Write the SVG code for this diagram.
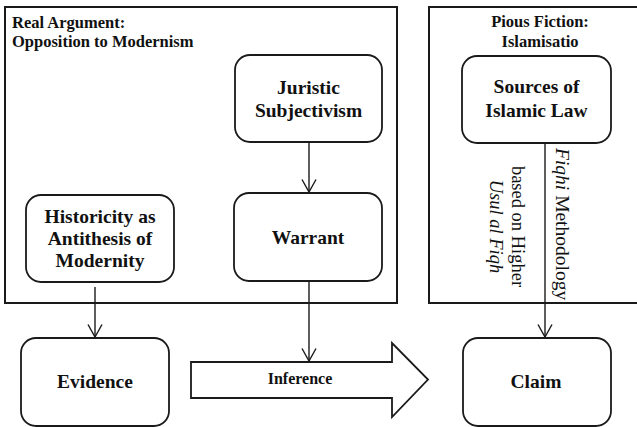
<svg xmlns="http://www.w3.org/2000/svg" width="637" height="427" viewBox="0 0 637 427" font-family="'Liberation Serif', 'Times New Roman', 'DejaVu Serif', serif">
  <style>
    .frame { fill: none; stroke: #1a1a1a; stroke-width: 2; }
    .box { fill: #fff; stroke: #1a1a1a; stroke-width: 1.8; }
    text { font-family: 'Liberation Serif', 'Times New Roman', 'DejaVu Serif', serif; fill: #111; }
    .title { font-weight: bold; font-size: 16.5px; }
    .label { font-weight: bold; font-size: 19.5px; text-anchor: middle; }
    .side { font-size: 18.5px; }
    .link { fill: none; stroke: #1a1a1a; stroke-width: 1.4; }
    .head { fill: none; stroke: #1a1a1a; stroke-width: 1.4; }
  </style>
  <defs>
    <!-- open V arrowhead -->
    <marker id="open" viewBox="0 0 14 16" refX="13" refY="8" markerWidth="14" markerHeight="16" markerUnits="userSpaceOnUse" orient="auto">
      <path class="head" d="M0.5,1 L13,8 L0.5,15"/>
    </marker>
  </defs>
  <rect width="637" height="427" fill="#fff"/>

  <!-- Real argument container -->
  <g id="real-argument">
    <rect class="frame" x="5" y="7" width="392" height="296"/>
    <text class="title" x="12" y="28">Real Argument:</text>
    <text class="title" x="12" y="47">Opposition to Modernism</text>
  </g>

  <!-- Pious fiction container (runs off the right edge) -->
  <g id="pious-fiction">
    <rect class="frame" x="429" y="7" width="220" height="296"/>
    <text class="title" x="540" y="27" text-anchor="middle">Pious Fiction:</text>
    <text class="title" x="540" y="47" text-anchor="middle">Islamisatio</text>
  </g>

  <g id="juristic">
    <rect class="box" x="235" y="55" width="147" height="87" rx="15"/>
    <text class="label" x="308.5" y="94">Juristic</text>
    <text class="label" x="308.5" y="117">Subjectivism</text>
  </g>

  <g id="warrant">
    <rect class="box" x="234" y="193" width="148" height="88" rx="15"/>
    <text class="label" x="308" y="244">Warrant</text>
  </g>

  <g id="historicity">
    <rect class="box" x="26" y="195" width="148" height="87" rx="15"/>
    <text class="label" x="100" y="223">Historicity as</text>
    <text class="label" x="100" y="245">Antithesis of</text>
    <text class="label" x="100" y="267">Modernity</text>
  </g>

  <g id="evidence">
    <rect class="box" x="21" y="338" width="148" height="88" rx="15"/>
    <text class="label" x="95" y="388">Evidence</text>
  </g>

  <g id="inference">
    <path class="box" d="M191,362 L392,362 L392,343 L428,379.5 L392,417 L392,398 L191,398 Z"/>
    <text class="label" x="300" y="384" style="font-size:16px">Inference</text>
  </g>

  <g id="sources">
    <rect class="box" x="462" y="56" width="149" height="87" rx="15"/>
    <text class="label" x="536.5" y="93">Sources of</text>
    <text class="label" x="536.5" y="117">Islamic Law</text>
  </g>

  <g id="claim">
    <rect class="box" x="463" y="338" width="148" height="88" rx="15"/>
    <text class="label" x="536" y="388">Claim</text>
  </g>

  <g id="connectors">
    <line class="link" x1="309" y1="142" x2="309" y2="192" marker-end="url(#open)"/>
    <line class="link" x1="95" y1="287" x2="95" y2="337" marker-end="url(#open)"/>
    <line class="link" x1="309" y1="281" x2="309" y2="361" marker-end="url(#open)"/>
    <line class="link" x1="545" y1="143" x2="545" y2="337" marker-end="url(#open)"/>
  </g>

  <!-- vertical annotations beside the methodology link -->
  <g id="methodology-labels">
    <text class="side" transform="translate(556,148) rotate(90)" style="font-size:19.5px"><tspan font-style="italic">Fiqhi</tspan> Methodology</text>
    <text class="side" transform="translate(512,226.5) rotate(90)" text-anchor="middle">based on Higher</text>
    <text class="side" transform="translate(490,226.5) rotate(90)" text-anchor="middle" font-style="italic">Usul al Fiqh</text>
  </g>
</svg>
